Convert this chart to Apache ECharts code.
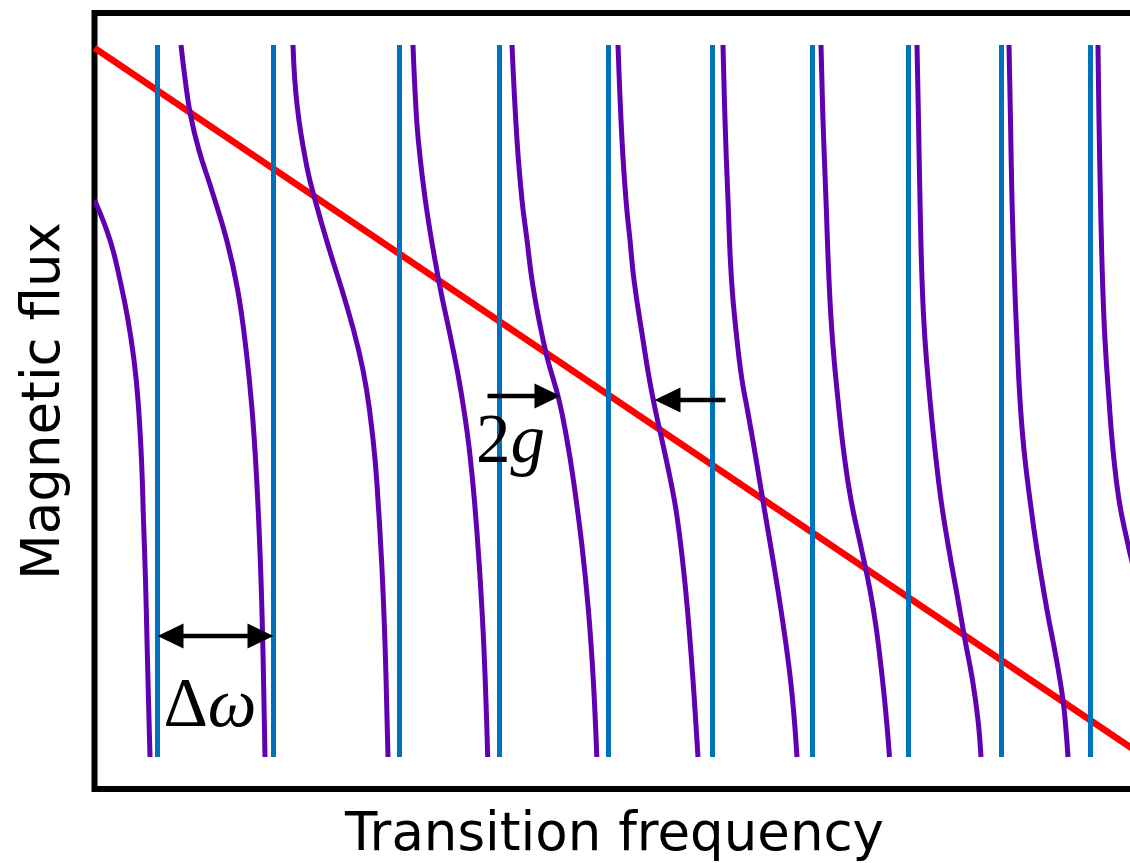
<!DOCTYPE html>
<html>
<head>
<meta charset="utf-8">
<script src="https://cdn.jsdelivr.net/npm/echarts@6/dist/echarts.min.js"></script>
<style>
  html, body { margin: 0; padding: 0; background: #fff; }
  #chart { width: 1130px; height: 863px; }
</style>
</head>
<body>
<div id="chart"></div>
<script>
// bare resonator modes (vertical blue lines), frequency units
const modeFreqs = [0.63, 1.79, 3.05, 4.05, 5.14, 6.18, 7.18, 8.14, 9.07, 9.96]
const fluxRange = [0.32, 7.44]

// bare qubit line (red)
const qubitLine = [[0, 7.41], [10.4, 0.39]]

// dressed branches (purple), [freq, flux]
const branch0 = [[0, 5.89], [0.155, 5.49], [0.255, 5.09], [0.335, 4.69], [0.395, 4.29], [0.435, 3.89], [0.47, 3.29], [0.49, 2.69], [0.51, 2.09], [0.525, 1.49], [0.54, 0.89], [0.555, 0.32]]
const branch1 = [[0.865, 7.44], [0.907, 7.09], [0.96, 6.74], [1.044, 6.39], [1.172, 5.99], [1.322, 5.49], [1.432, 4.99], [1.516, 4.39], [1.576, 3.79], [1.622, 3.09], [1.658, 2.29], [1.682, 1.49], [1.705, 0.32]]
const branch2 = [[1.985, 7.44], [2.028, 6.82], [2.124, 6.22], [2.214, 5.86], [2.35, 5.39], [2.514, 4.86], [2.641, 4.39], [2.721, 3.99], [2.786, 3.49], [2.822, 3.09], [2.874, 2.22], [2.907, 1.39], [2.935, 0.32]]
const branch3 = [[3.185, 7.44], [3.21, 6.89], [3.238, 6.49], [3.318, 5.82], [3.447, 5.06], [3.552, 4.56], [3.636, 4.14], [3.699, 3.76], [3.749, 3.39], [3.799, 2.89], [3.849, 2.22], [3.895, 1.39], [3.932, 0.32]]
const branch4 = [[4.175, 7.44], [4.225, 6.49], [4.275, 5.89], [4.325, 5.49], [4.375, 5.09], [4.445, 4.69], [4.525, 4.32], [4.645, 3.89], [4.725, 3.49], [4.789, 3.09], [4.876, 2.42], [4.939, 1.79], [4.988, 1.09], [5.023, 0.32]]
const branch5 = [[5.235, 7.44], [5.275, 6.49], [5.315, 5.89], [5.355, 5.49], [5.395, 5.09], [5.485, 4.49], [5.55, 4.09], [5.615, 3.76], [5.69, 3.42], [5.76, 3.09], [5.82, 2.76], [5.88, 2.29], [5.93, 1.79], [5.985, 1.09], [6.035, 0.32]]
const branch6 = [[6.285, 7.44], [6.305, 6.69], [6.335, 5.89], [6.37, 5.09], [6.425, 4.49], [6.475, 4.09], [6.535, 3.76], [6.595, 3.42], [6.65, 3.09], [6.705, 2.76], [6.785, 2.29], [6.865, 1.79], [6.945, 1.22], [6.99, 0.79], [7.025, 0.32]]
const branch7 = [[7.265, 7.44], [7.285, 6.69], [7.315, 5.89], [7.345, 5.09], [7.38, 4.49], [7.435, 3.89], [7.49, 3.39], [7.565, 2.89], [7.665, 2.42], [7.755, 1.99], [7.82, 1.59], [7.88, 1.09], [7.92, 0.69], [7.95, 0.32]]
const branch8 = [[8.225, 7.44], [8.24, 6.69], [8.255, 5.89], [8.275, 5.09], [8.305, 4.49], [8.355, 3.89], [8.405, 3.39], [8.465, 2.89], [8.545, 2.39], [8.635, 1.89], [8.705, 1.49], [8.78, 1.09], [8.835, 0.69], [8.865, 0.32]]
const branch9 = [[9.145, 7.44], [9.16, 6.69], [9.175, 5.89], [9.20, 5.09], [9.225, 4.49], [9.255, 3.89], [9.295, 3.39], [9.355, 2.89], [9.425, 2.39], [9.525, 1.79], [9.62, 1.29], [9.685, 0.89], [9.715, 0.59], [9.735, 0.32]]
const branch10 = [[10.035, 7.44], [10.045, 6.69], [10.06, 5.89], [10.08, 5.09], [10.105, 4.49], [10.145, 3.89], [10.185, 3.39], [10.245, 2.89], [10.325, 2.49], [10.395, 2.19], [10.475, 1.89]]
const branches = [branch0, branch1, branch2, branch3, branch4, branch5, branch6, branch7, branch8, branch9, branch10]

// annotations: [x1, y1, x2, y2, headAtBothEnds]
const arrows = [
  [0.63, 1.53, 1.79, 1.53, 1],
  [3.93, 3.93, 4.66, 3.93, 0],
  [6.31, 3.89, 5.60, 3.89, 0]
]
const labels = [
  { pos: [1.155, 0.81], text: '{n|Δ}{i|ω}' },
  { pos: [4.16, 3.45], text: '{n|2}{i|g}' }
]

const chart = echarts.init(document.getElementById('chart'))

const blueSeries = modeFreqs.map(f => ({
  type: 'line',
  data: [[f, fluxRange[0]], [f, fluxRange[1]]],
  symbol: 'none',
  z: 3,
  lineStyle: { color: '#0072BD', width: 5, cap: 'butt' },
  silent: true
}))

// each branch drawn as one smooth polyline
const purpleSeries = branches.map(b => ({
  type: 'custom',
  data: b,
  z: 4,
  clip: true,
  silent: true,
  renderItem(params, api) {
    if (params.dataIndex !== 0) return null
    return {
      type: 'polyline',
      shape: { points: b.map(p => api.coord(p)), smooth: 0.45 },
      style: { stroke: '#6000B0', lineWidth: 5, fill: null, lineCap: 'butt', lineJoin: 'round' }
    }
  }
}))

function renderArrow(params, api) {
  const a = api.coord([api.value(0), api.value(1)])
  const b = api.coord([api.value(2), api.value(3)])
  const both = api.value(4)
  const len = 26, half = 12.5
  const d = Math.hypot(b[0] - a[0], b[1] - a[1])
  const ux = (b[0] - a[0]) / d, uy = (b[1] - a[1]) / d
  const head = (tip, sx, sy) => [
    tip,
    [tip[0] - sx * len - sy * half, tip[1] - sy * len + sx * half],
    [tip[0] - sx * len + sy * half, tip[1] - sy * len - sx * half]
  ]
  const start = both ? [a[0] + ux * len * 0.8, a[1] + uy * len * 0.8] : a
  const end = [b[0] - ux * len * 0.8, b[1] - uy * len * 0.8]
  const children = [
    { type: 'line', shape: { x1: start[0], y1: start[1], x2: end[0], y2: end[1] }, style: { stroke: '#000', lineWidth: 4.5 } },
    { type: 'polygon', shape: { points: head(b, ux, uy) }, style: { fill: '#000' } }
  ]
  if (both) {
    children.push({ type: 'polygon', shape: { points: head(a, -ux, -uy) }, style: { fill: '#000' } })
  }
  return { type: 'group', children }
}

const option = {
  animation: false,
  backgroundColor: '#fff',
  grid: {
    left: 94.5,
    top: 13,
    width: 1040,
    height: 776,
    outerBoundsMode: 'none',
    containLabel: false,
    show: true,
    borderColor: '#000',
    borderWidth: 6,
    backgroundColor: 'transparent'
  },
  xAxis: {
    type: 'value',
    min: 0,
    max: 10.4,
    name: 'Transition frequency',
    nameLocation: 'middle',
    nameGap: 21,
    nameTextStyle: { fontFamily: 'DejaVu Sans', fontSize: 53, color: '#000' },
    axisLine: { show: false },
    axisTick: { show: false },
    axisLabel: { show: false },
    splitLine: { show: false }
  },
  yAxis: {
    type: 'value',
    min: 0,
    max: 7.76,
    name: 'Magnetic flux',
    nameLocation: 'middle',
    nameRotate: 90,
    nameGap: 23,
    nameTextStyle: { fontFamily: 'DejaVu Sans', fontSize: 53, color: '#000' },
    axisLine: { show: false },
    axisTick: { show: false },
    axisLabel: { show: false },
    splitLine: { show: false }
  },
  series: [
    {
      type: 'line',
      data: qubitLine,
      symbol: 'none',
      z: 2,
      lineStyle: { color: '#FF0000', width: 6.5 },
      silent: true
    },
    ...blueSeries,
    ...purpleSeries,
    {
      type: 'custom',
      data: arrows,
      renderItem: renderArrow,
      z: 6,
      silent: true
    },
    {
      type: 'scatter',
      data: labels.map(l => ({ value: l.pos, label: { formatter: l.text } })),
      symbolSize: 0,
      z: 7,
      silent: true,
      itemStyle: { opacity: 1 },
      label: {
        show: true,
        position: 'inside',
        color: '#000',
        opacity: 1,
        rich: {
          n: { fontFamily: 'Liberation Serif', fontSize: 69, color: '#000' },
          i: { fontFamily: 'Liberation Serif', fontSize: 69, fontStyle: 'italic', color: '#000' }
        }
      }
    }
  ]
}

chart.setOption(option)
</script>
</body>
</html>
